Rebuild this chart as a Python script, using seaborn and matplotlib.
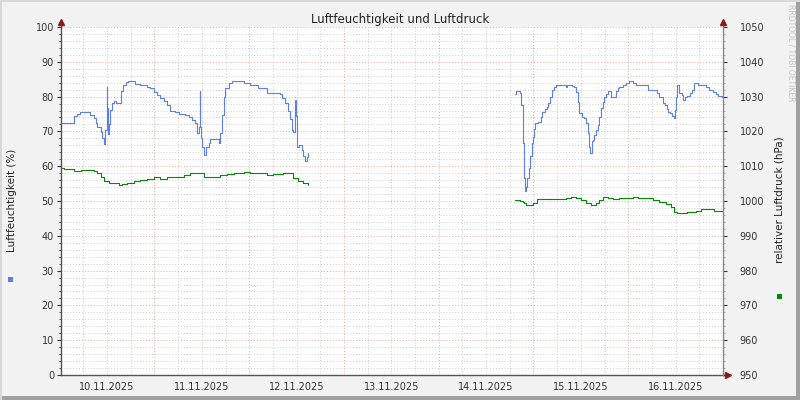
import pandas as pd
import matplotlib
matplotlib.use("Agg")
import matplotlib.pyplot as plt
import matplotlib.dates as mdates
from matplotlib.ticker import MultipleLocator, FuncFormatter
from matplotlib.patches import Rectangle
from matplotlib.lines import Line2D
import seaborn as sns

# -----------------------------
# Dados (horas desde 10.11.2025 00:00, degraus como no rrdtool)
# -----------------------------
START = pd.Timestamp("2025-11-10 00:00")
END = pd.Timestamp("2025-11-17 00:00")

hum_hours_1 = [0.5, 0.8, 3.6, 4.4, 5.1, 7.8, 8.7, 9.1, 9.5, 10.4, 10.8, 11.2, 11.6, 11.87, 12.0,
               12.21, 12.46, 12.7, 13.3, 13.8, 14.2, 15.58, 16.08, 16.67, 17.26, 19.2, 20.46, 22.15,
               22.99, 23.83, 24.67, 25.51, 26.35, 27.2, 28.04, 29.3, 30.14, 31.83, 32.67, 33.51,
               34.35, 34.77, 35.2, 35.45, 35.6, 35.79, 36.12, 36.63, 37.13, 37.72, 38.14, 40.25,
               40.67, 41.09, 41.51, 41.93, 42.78, 43.62, 46.56, 48.25, 50.35, 52.46, 55.83, 56.25,
               57.09, 57.93, 58.35, 58.77, 59.19, 59.62, 59.87, 60.04, 60.71, 61.3, 61.72, 62.14,
               62.56, 62.81, 63.0]
hum_values_1 = [72.5, 72.3, 74.4, 74.9, 75.7, 74.7, 73.8, 72.3, 71.4, 69.9, 68.0, 66.3, 70.5, 82.7, 76.6,
                69.3, 72.0, 76.2, 78.1, 78.6, 78.1, 81.7, 83.4, 84.3, 84.6, 83.6, 83.4, 82.7,
                82.4, 81.4, 80.5, 79.5, 78.6, 77.6, 76.0, 75.7, 75.0, 74.7, 74.1, 73.3,
                72.3, 69.5, 71.4, 81.7, 71.4, 68.0, 65.6, 63.2, 65.6, 66.6, 67.7, 66.8,
                69.5, 74.7, 80.0, 82.4, 83.8, 84.6, 83.8, 83.4, 82.4, 81.0, 80.8, 79.5,
                78.1, 76.0, 73.6, 70.4, 69.9, 79.0, 74.3, 65.6, 66.1, 64.7, 62.8, 61.5,
                62.6, 63.7, 63.7]

hum_hours_2 = [115.37, 115.62, 116.46, 116.72, 116.88, 117.47, 117.72, 117.89, 118.14, 118.4, 118.82,
               119.16, 119.58, 119.83, 120.08, 120.5, 121.09, 121.93, 122.19, 123.03, 123.37, 123.79,
               124.21, 124.72, 125.14, 125.73, 128.25, 128.51, 129.77, 130.36, 130.78, 131.2, 131.62,
               132.21, 132.71, 133.3, 133.73, 133.98, 134.32, 134.74, 135.16, 135.41, 135.83, 136.34,
               136.68, 137.1, 137.52, 137.94, 138.36, 138.78, 139.62, 140.89, 141.31, 141.73, 142.57,
               143.41, 144.09, 145.1, 145.94, 148.89, 151.41, 151.83, 152.68, 153.35, 153.77, 154.19,
               154.53, 155.2, 155.62, 155.87, 156.04, 156.46, 156.88, 157.56, 157.89, 158.31, 158.99,
               159.58, 160.08, 160.67, 161.09, 161.77, 163.62, 164.46, 165.56, 166.15, 166.82, 167.66,
               168.0]
hum_values_2 = [80.7, 81.7, 80.9, 79.8, 77.6, 66.6, 56.5, 52.9, 54.1, 56.5, 59.4,
                62.9, 66.6, 68.5, 70.6, 72.3, 72.8, 74.2, 75.7, 76.3, 76.9, 78.1,
                79.8, 81.9, 82.9, 83.4, 82.9, 83.4, 83.1, 82.9, 81.4, 78.5, 75.2,
                74.2, 73.8, 72.3, 69.4, 65.6, 63.7, 67.1, 67.5, 69.0, 70.4, 71.8,
                74.2, 76.6, 78.5, 80.0, 80.7, 81.7, 80.0, 81.7, 82.4, 82.7, 83.3,
                83.8, 84.6, 83.8, 83.4, 81.9, 80.9, 80.0, 78.1, 77.6, 76.3, 75.7,
                75.2, 74.4, 73.8, 76.1, 80.0, 83.3, 80.9, 80.5, 79.0, 80.0, 80.2,
                80.9, 81.9, 83.8, 84.0, 83.3, 82.9, 81.9, 81.4, 80.7, 80.2, 79.8,
                79.8]

press_hours_1 = [0.5, 1.1, 3.6, 5.3, 8.7, 9.5, 10.4, 11.2, 12.46, 13.7, 14.99, 15.83, 17.09, 18.78,
                 20.46, 22.15, 23.83, 25.51, 27.2, 29.72, 31.41, 33.09, 34.77, 36.46, 38.99, 40.67,
                 42.35, 44.04, 46.56, 48.25, 50.77, 52.46, 54.14, 56.67, 57.93, 59.19, 60.46, 61.72,
                 63.0]
press_values_1 = [1009.4, 1009.2, 1008.7, 1008.9, 1008.6, 1008.0, 1007.0, 1005.8, 1005.3, 1005.1,
                  1004.6, 1004.9, 1005.3, 1005.8, 1006.0, 1006.3, 1006.8, 1006.4, 1006.8, 1007.0,
                  1007.5, 1008.1, 1008.0, 1007.0, 1007.0, 1007.5, 1007.9, 1008.1, 1008.3, 1008.1,
                  1008.0, 1007.5, 1007.8, 1008.1, 1008.0, 1006.5, 1005.8, 1005.1, 1004.7]

press_hours_2 = [115.37, 116.04, 116.46, 117.3, 117.72, 118.14, 119.83, 120.5, 120.93, 121.93, 124.04,
                 125.73, 126.99, 128.25, 129.52, 130.78, 132.04, 133.3, 134.57, 135.83, 136.68,
                 137.68, 138.78, 140.04, 141.73, 143.83, 145.1, 146.36, 148.46, 150.15, 151.83,
                 153.52, 154.78, 155.62, 156.46, 157.73, 158.99, 161.09, 162.36, 164.46, 165.73, 168.0]
press_values_2 = [1000.3, 1000.3, 1000.1, 999.8, 999.5, 998.9, 999.3, 999.5, 1000.5, 1000.7, 1000.5,
                  1000.7, 1000.5, 1001.0, 1001.2, 1001.0, 1000.3, 999.3, 998.9, 999.3, 1000.3,
                  1001.1, 1000.9, 1000.7, 1000.9, 1001.0, 1001.2, 1000.9, 1000.8, 1000.3, 999.7,
                  999.1, 998.4, 996.9, 996.6, 996.6, 996.9, 997.2, 997.6, 997.6, 997.2, 997.2]

y_left_ticks = list(range(0, 101, 10))
y_right_ticks = list(range(950, 1051, 10))

HUM_COLOR = "#5b7fe6"
PRESS_COLOR = "#008c00"
BG = "#f2f2f2"


def to_frame(hours, values):
    return pd.DataFrame({"time": START + pd.to_timedelta(hours, unit="h"), "value": values})


# -----------------------------
# Figura
# -----------------------------
sns.set_style("white")
plt.rcParams["font.family"] = ["DejaVu Sans"]

fig = plt.figure(figsize=(8, 4), dpi=100, facecolor=BG)
ax = fig.add_axes([61 / 800, 25 / 400, 662 / 800, 348 / 400])
ax2 = ax.twinx()
ax.set_facecolor("white")

for h, v in [(hum_hours_1, hum_values_1), (hum_hours_2, hum_values_2)]:
    sns.lineplot(data=to_frame(h, v), x="time", y="value", ax=ax, color=HUM_COLOR,
                 linewidth=0.8, drawstyle="steps-post", legend=False)
for h, v in [(press_hours_1, press_values_1), (press_hours_2, press_values_2)]:
    sns.lineplot(data=to_frame(h, v), x="time", y="value", ax=ax2, color=PRESS_COLOR,
                 linewidth=0.8, drawstyle="steps-post", legend=False)

ax.set_xlim(START + pd.Timedelta(minutes=20), END)
ax.set_ylim(0, 100)
ax2.set_ylim(950, 1050)
ax.set_xlabel("")
ax.set_ylabel("")
ax2.set_ylabel("")

# eixos y
ax.set_yticks(y_left_ticks)
ax.yaxis.set_minor_locator(MultipleLocator(2))
ax2.set_yticks(y_right_ticks)
ax2.yaxis.set_minor_locator(MultipleLocator(2))

# eixo x: meia-noite (vermelho) e cada 6 h, rótulo ao meio-dia
ax.xaxis.set_major_locator(mdates.DayLocator())
ax.xaxis.set_major_formatter(FuncFormatter(lambda x, p: ""))
ax.xaxis.set_minor_locator(mdates.HourLocator(byhour=[6, 12, 18]))


def noon_label(x, pos):
    d = mdates.num2date(x)
    return d.strftime("%d.%m.%Y") if d.hour == 12 else ""


ax.xaxis.set_minor_formatter(FuncFormatter(noon_label))

# grades
ax.grid(which="major", color="#e4a6a6", linestyle=(0, (1, 2)), linewidth=0.7)
ax.grid(which="minor", color="#cccccc", linestyle=(0, (1, 2)), linewidth=0.7)
ax2.grid(False)

ax.tick_params(axis="both", which="both", labelsize=7, colors="#333333", direction="out")
ax.tick_params(axis="y", which="major", length=3, pad=2)
ax.tick_params(axis="y", which="minor", length=1.5)
ax.tick_params(axis="x", which="major", length=4, color="#d06060")
ax.tick_params(axis="x", which="minor", length=2, pad=3, color="#999999")
ax2.tick_params(axis="y", which="major", labelsize=7, length=3, pad=9, colors="#333333")
ax2.tick_params(axis="y", which="minor", length=1.5, colors="#999999")

for sp in ["top", "right"]:
    ax.spines[sp].set_visible(False)
for sp in ["top", "left", "bottom"]:
    ax2.spines[sp].set_visible(False)
ax.spines["left"].set_color("#555555")
ax.spines["bottom"].set_color("#555555")
ax2.spines["right"].set_color("#888888")
for sp in [ax.spines["left"], ax.spines["bottom"], ax2.spines["right"]]:
    sp.set_linewidth(1.0)

# setas
arrow = "#8b1a1a"
ax.add_line(Line2D([0, 0], [1, 1.012], transform=ax.transAxes, color="#555555", lw=1, clip_on=False))
ax.add_line(Line2D([1, 1], [1, 1.012], transform=ax.transAxes, color="#888888", lw=1, clip_on=False))
ax.add_line(Line2D([1, 1.008], [0, 0], transform=ax.transAxes, color="#555555", lw=1, clip_on=False))
ax.plot([0, 1], [1.014, 1.014], linestyle="none", marker="^", ms=4, color=arrow,
        transform=ax.transAxes, clip_on=False)
ax.plot([1.008], [0], linestyle="none", marker=">", ms=4, color=arrow,
        transform=ax.transAxes, clip_on=False)

# textos
fig.text(0.5, 1 - 19 / 400, "Luftfeuchtigkeit und Luftdruck", ha="center", va="center",
         fontsize=8.5, color="#222222")
fig.text(12 / 800, 0.5, "Luftfeuchtigkeit (%)", rotation=90, ha="center", va="center",
         fontsize=7.5, color="#222222")
fig.text(780 / 800, 0.5, "relativer Luftdruck (hPa)", rotation=90, ha="center", va="center",
         fontsize=7.5, color="#222222")
fig.text(791 / 800, 1 - 4 / 400, "RRDTOOL / TOBI OETIKER", rotation=-90, ha="center", va="top",
         fontsize=5.5, color="#c4c4c4")

# marcadores de legenda
fig.add_artist(Rectangle((8 / 800, 1 - 282 / 400), 5 / 800, 5 / 400, transform=fig.transFigure,
                         facecolor=HUM_COLOR, edgecolor="none"))
fig.add_artist(Rectangle((777 / 800, 1 - 299 / 400), 5 / 800, 5 / 400, transform=fig.transFigure,
                         facecolor=PRESS_COLOR, edgecolor="none"))

# moldura 3D do rrdtool
fig.add_artist(Rectangle((0, 0), 1, 4 / 400, transform=fig.transFigure, facecolor="#a0a0a0",
                         edgecolor="none"))
fig.add_artist(Rectangle((1 - 4 / 800, 0), 4 / 800, 1, transform=fig.transFigure, facecolor="#a0a0a0",
                         edgecolor="none"))
fig.add_artist(Rectangle((0, 1 - 2 / 400), 1, 2 / 400, transform=fig.transFigure, facecolor="#d8d8d8",
                         edgecolor="none"))
fig.add_artist(Rectangle((0, 0), 2 / 800, 1, transform=fig.transFigure, facecolor="#d8d8d8",
                         edgecolor="none"))

fig.savefig("out.png", dpi=100, facecolor=BG)
